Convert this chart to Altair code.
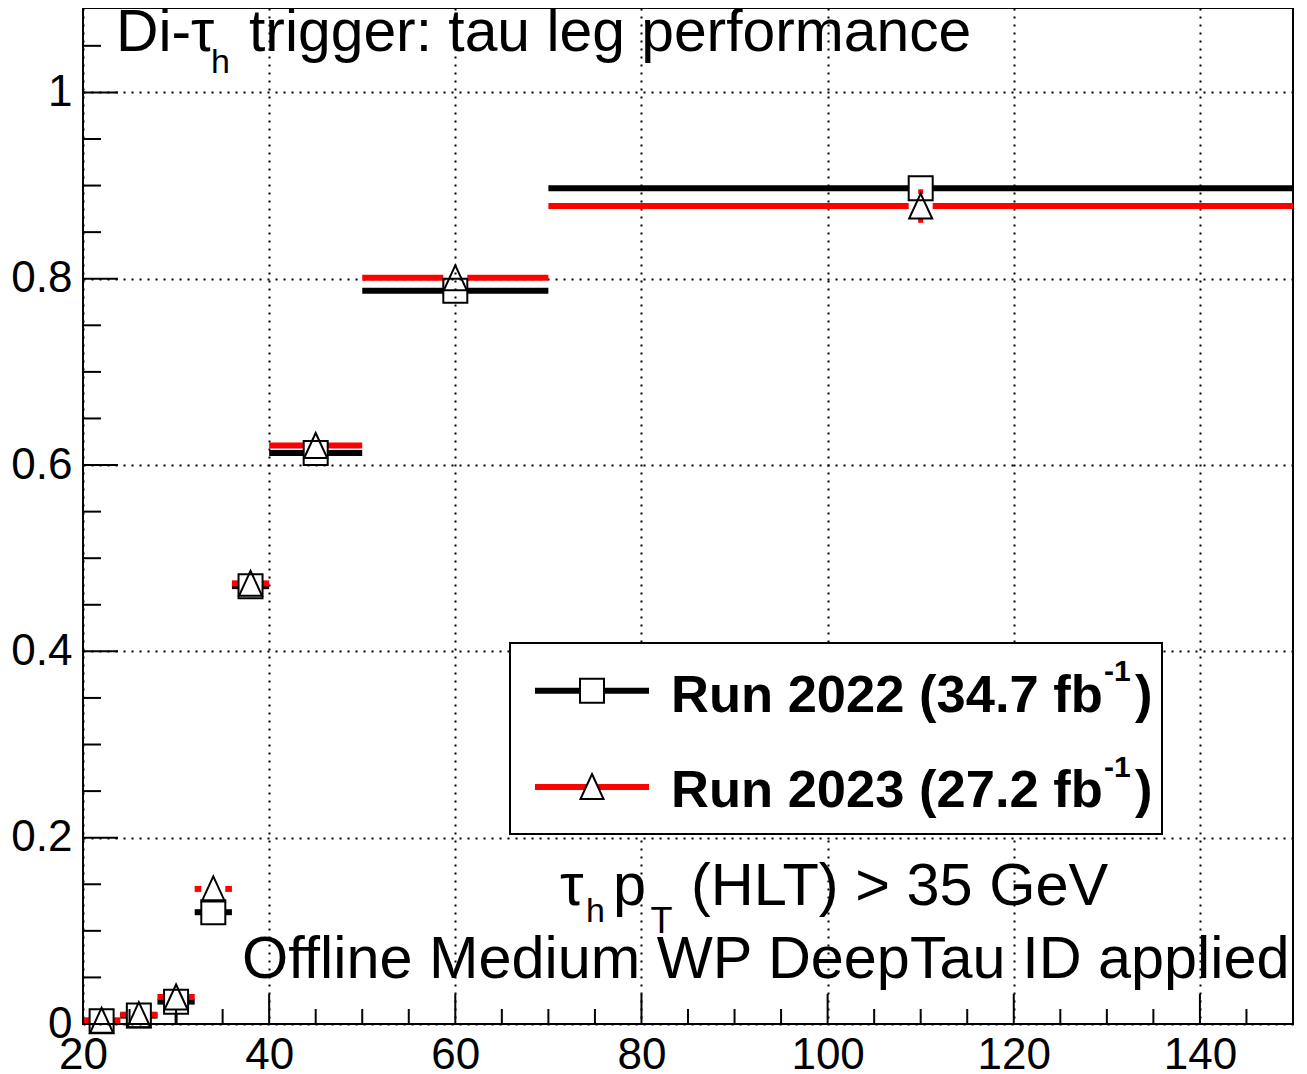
import altair as alt
import pandas as pd

# ---------------- data ----------------
bin_lo = [20, 24, 28, 32, 36, 40, 50, 70]
bin_hi = [24, 28, 32, 36, 40, 50, 70, 150]
bin_center = [22, 26, 30, 34, 38, 45, 60, 110]
eff_2022 = [0.003, 0.009, 0.024, 0.120, 0.470, 0.613, 0.787, 0.897]
eff_2023 = [0.004, 0.010, 0.029, 0.145, 0.473, 0.621, 0.801, 0.878]
err_lo_2022 = [0.003, 0.005, 0.024, 0.010, 0.008, 0.006, 0.006, 0.005]
err_hi_2022 = [0.004, 0.005, 0.010, 0.010, 0.008, 0.006, 0.006, 0.005]
err_lo_2023 = [0.004, 0.005, 0.010, 0.010, 0.008, 0.006, 0.006, 0.018]
err_hi_2023 = [0.004, 0.005, 0.010, 0.010, 0.008, 0.006, 0.006, 0.018]

x_major = [20, 40, 60, 80, 100, 120, 140]
x_minor = [25, 30, 35, 45, 50, 55, 65, 70, 75, 85, 90, 95, 105, 110, 115, 125, 130, 135, 145]
y_major = [0, 0.2, 0.4, 0.6, 0.8, 1.0]
y_minor = [0.05, 0.1, 0.15, 0.25, 0.3, 0.35, 0.45, 0.5, 0.55, 0.65, 0.7, 0.75,
           0.85, 0.9, 0.95, 1.05]

W, H = 1210, 1016
FONT = "Liberation Sans"
GAP = 12           # marker half size in px (ROOT leaves a gap around markers)
GAP_VAL = 0.0135   # the same gap in efficiency units
TRI = "M0,-1.04L0.96,1.04L-0.96,1.04Z"

df = pd.DataFrame({
    "lo": bin_lo, "hi": bin_hi, "c": bin_center,
    "e22": eff_2022, "e23": eff_2023,
    "l22": err_lo_2022, "h22": err_hi_2022,
    "l23": err_lo_2023, "h23": err_hi_2023,
})

xs = alt.Scale(domain=[20, 150], nice=False, zero=False)
ys = alt.Scale(domain=[0, H / 931.6], nice=False, zero=False)

x_axis = alt.Axis(values=x_major, title="", ticks=False, domain=False, grid=True,
                  gridColor="black", gridDash=[2, 6], gridWidth=2, gridOpacity=1,
                  labelFont=FONT, labelFontSize=44, labelColor="black",
                  labelPadding=9, labelFlush=False, labelOverlap=False)
y_axis = alt.Axis(values=y_major, title="", ticks=False, domain=False, grid=True,
                  gridColor="black", gridDash=[2, 6], gridWidth=2, gridOpacity=1,
                  labelFont=FONT, labelFontSize=44, labelColor="black", format="~g",
                  labelPadding=11, labelFlush=False, labelOverlap=False)

base = alt.Chart(df)


def X(f):
    return alt.X(f, scale=xs, axis=x_axis, title="")


def Y(f):
    return alt.Y(f, scale=ys, axis=y_axis, title="")


def series(eff, elo, ehi, color, shape, ew):
    left = base.mark_rule(color=color, strokeWidth=6, x2Offset=-GAP).encode(
        x=X("lo:Q"), x2="c:Q", y=Y(f"{eff}:Q"))
    right = base.mark_rule(color=color, strokeWidth=6, xOffset=GAP).encode(
        x=X("c:Q"), x2="hi:Q", y=Y(f"{eff}:Q"))
    up = base.transform_filter(f"datum.{ehi} > {GAP_VAL}").transform_calculate(
        top=f"datum.{eff} + datum.{ehi}").mark_rule(
        color=color, strokeWidth=ew, y2Offset=-GAP).encode(
        x=X("c:Q"), y=Y("top:Q"), y2=f"{eff}:Q")
    down = base.transform_filter(f"datum.{elo} > {GAP_VAL}").transform_calculate(
        bot=f"datum.{eff} - datum.{elo}").mark_rule(
        color=color, strokeWidth=ew, yOffset=GAP).encode(
        x=X("c:Q"), y=Y(f"{eff}:Q"), y2="bot:Q")
    pts = base.mark_point(shape=shape, size=576, filled=False, stroke="black",
                          strokeWidth=2, opacity=1).encode(
        x=X("c:Q"), y=Y(f"{eff}:Q"))
    return [left, right], [up, down], pts


l22, e22, p22 = series("e22", "l22", "h22", "black", "square", 3)
l23, e23, p23 = series("e23", "l23", "h23", "#ff0000", TRI, 5)

# inward tick marks (ROOT style)
ymaj = alt.Chart(pd.DataFrame({"v": y_major})).mark_rule(color="black", strokeWidth=2).encode(
    y=Y("v:Q"), x=alt.value(0), x2=alt.value(35))
ymin = alt.Chart(pd.DataFrame({"v": y_minor})).mark_rule(color="black", strokeWidth=2).encode(
    y=Y("v:Q"), x=alt.value(0), x2=alt.value(18))
xmaj = alt.Chart(pd.DataFrame({"v": x_major})).mark_rule(color="black", strokeWidth=2).encode(
    x=X("v:Q"), y=alt.value(H), y2=alt.value(H - 30))
xmin = alt.Chart(pd.DataFrame({"v": x_minor})).mark_rule(color="black", strokeWidth=2).encode(
    x=X("v:Q"), y=alt.value(H), y2=alt.value(H - 15))


def txt(s, x, y, size, bold=False, align="left"):
    return alt.Chart(pd.DataFrame({"t": [s]})).mark_text(
        font=FONT, fontSize=size, fontWeight="bold" if bold else "normal",
        align=align, baseline="alphabetic", color="black").encode(
        text="t:N", x=alt.value(x), y=alt.value(y))


one = pd.DataFrame({"k": [0]})

# legend
leg_box = alt.Chart(one).mark_rect(fill="white", stroke="black", strokeWidth=2).encode(
    x=alt.value(427), x2=alt.value(1079), y=alt.value(635), y2=alt.value(826))
leg_l1 = alt.Chart(one).mark_rule(color="black", strokeWidth=6).encode(
    x=alt.value(452), x2=alt.value(566), y=alt.value(682.7))
leg_l2 = alt.Chart(one).mark_rule(color="#ff0000", strokeWidth=6).encode(
    x=alt.value(452), x2=alt.value(566), y=alt.value(779))
leg_m1 = alt.Chart(one).mark_point(shape="square", size=576, filled=True, fill="white",
                                   stroke="black", strokeWidth=2, opacity=1).encode(
    x=alt.value(509), y=alt.value(682.8))
leg_m2 = alt.Chart(one).mark_point(shape=TRI, size=576, filled=True, fill="white",
                                   stroke="black", strokeWidth=2, opacity=1).encode(
    x=alt.value(509), y=alt.value(778.5))

texts = [
    # title
    txt("Di-τ", 33, 42.7, 58.8),
    txt("h", 128, 65, 34),
    txt("trigger: tau leg performance", 166, 42.7, 58.8),
    # legend labels
    txt("Run 2022 (34.7 fb", 588, 703.7, 52.5, bold=True),
    txt("-1", 1021, 673, 30, bold=True),
    txt(")", 1052, 703.7, 52.5, bold=True),
    txt("Run 2023 (27.2 fb", 588, 799, 52.5, bold=True),
    txt("-1", 1021, 768.5, 30, bold=True),
    txt(")", 1052, 799, 52.5, bold=True),
    # selection text
    txt("τ", 477, 897, 59.5),
    txt("h", 503, 913.7, 34),
    txt("p", 530, 897, 59.5),
    txt("T", 567.5, 925, 36),
    txt("(HLT) > 35 GeV", 608, 897, 59.5),
    txt("Offline Medium WP DeepTau ID applied", 159, 970.3, 59.4),
]

chart = alt.layer(
    *l22, *l23,
    *e22, p22,
    *e23, p23,
    ymaj, ymin, xmaj, xmin,
    leg_box, leg_l1, leg_l2, leg_m1, leg_m2,
    *texts,
).properties(
    width=W, height=H,
    autosize=alt.AutoSizeParams(type="none"),
    padding={"left": 75, "top": 0, "right": 5, "bottom": 50},
    background="white",
).configure_view(stroke="black", strokeWidth=2)

chart.save("out.html", embed_options={"renderer": "svg", "actions": False})
